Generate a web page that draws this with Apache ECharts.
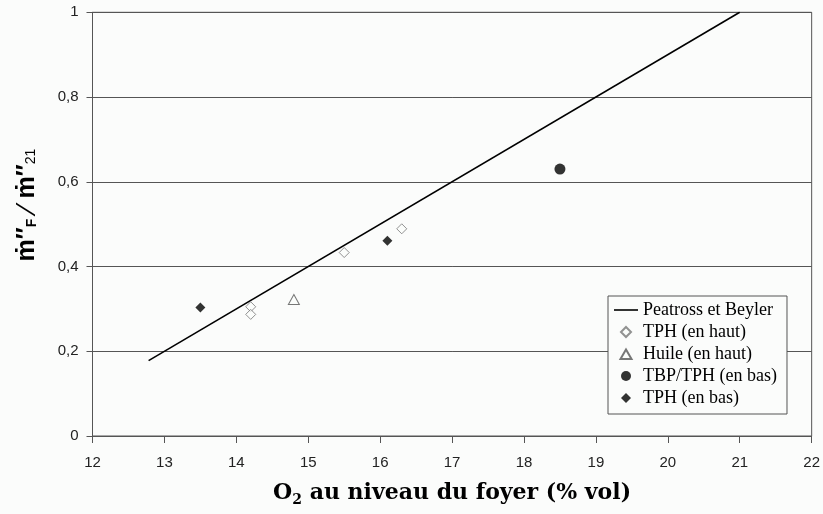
<!DOCTYPE html>
<html>
<head>
<meta charset="utf-8">
<script src="https://cdn.jsdelivr.net/npm/echarts@6/dist/echarts.min.js"></script>
<style>html,body{margin:0;padding:0;background:#fbfcfb;}#c{width:823px;height:514px;}</style>
</head>
<body>
<div id="c"></div>
<script>
// Data
const peatrossLine = [[12.78, 0.178], [21.0, 1.0]];
const tphHaut = [[14.2, 0.305], [14.2, 0.287], [15.5, 0.433], [16.3, 0.489]];
const huileHaut = [[14.8, 0.322]];
const tbpTphBas = [[18.5, 0.63]];
const tphBas = [[13.5, 0.303], [16.1, 0.461]];
const seriesNames = ['Peatross et Beyler', 'TPH (en haut)', 'Huile (en haut)', 'TBP/TPH (en bas)', 'TPH (en bas)'];
const xTicks = { min: 12, max: 22, interval: 1 };
const yTicks = { min: 0, max: 1, interval: 0.2 };

// legend icons padded to a 24x10 box so they keep their shape
const iconLine = 'path://M0,0M24,10M0,4.2H24V5.8H0Z';
const iconDiamond = 'path://M0,0M24,10M12,0L17,5L12,10L7,5Z';
const iconTriangle = 'path://M0,0M24,10M12,0.5L17.5,10L6.5,10Z';
const iconCircle = 'path://M0,0M24,10M7,5A5,5,0,1,1,17,5A5,5,0,1,1,7,5Z';

const chart = echarts.init(document.getElementById('c'), null, { renderer: 'canvas' });
const axisCol = '#555';
chart.setOption({
  backgroundColor: '#fbfcfb',
  animation: false,
  grid: { left: 92.5, right: 11, top: 12.3, bottom: 78, show: true, borderColor: axisCol, borderWidth: 1, backgroundColor: 'transparent' },
  xAxis: {
    type: 'value', min: xTicks.min, max: xTicks.max, interval: xTicks.interval,
    axisLine: { show: true, lineStyle: { color: axisCol, width: 1 } },
    axisTick: { show: true, inside: false, length: 7, lineStyle: { color: axisCol } },
    splitLine: { show: false },
    axisLabel: { margin: 19, color: '#222', fontFamily: 'Liberation Sans', fontSize: 15 },
    name: '{o|O}{sub|2}{t| au niveau du foyer (% vol)}',
    nameLocation: 'middle', nameGap: 44,
    nameTextStyle: {
      rich: {
        o: { fontFamily: 'DejaVu Serif', fontWeight: 'bold', fontSize: 22, color: '#000' },
        sub: { fontFamily: 'DejaVu Serif', fontWeight: 'bold', fontSize: 14, color: '#000', verticalAlign: 'bottom', padding: [13, 0, 0, 0] },
        t: { fontFamily: 'DejaVu Serif', fontWeight: 'bold', fontSize: 22, color: '#000' }
      }
    }
  },
  yAxis: {
    type: 'value', min: yTicks.min, max: yTicks.max, interval: yTicks.interval,
    axisLine: { show: true, lineStyle: { color: axisCol, width: 1 } },
    axisTick: { show: true, inside: false, length: 6, lineStyle: { color: axisCol } },
    splitLine: { show: true, lineStyle: { color: axisCol, width: 1 } },
    axisLabel: { margin: 14, color: '#222', fontFamily: 'Liberation Sans', fontSize: 15,
      formatter: v => String(Math.round(v * 10) / 10).replace('.', ',') }
  },
  graphic: [{
    type: 'text', x: 27, y: 205, rotation: Math.PI / 2,
    style: {
      text: '{m|ṁ″}{f|F}{s| ⁄ }{m|ṁ″}{n|21}',
      align: 'center', verticalAlign: 'middle',
      rich: {
        m: { fontFamily: 'Liberation Sans', fontWeight: 'bold', fontSize: 25, fill: '#000' },
        f: { fontFamily: 'Liberation Sans', fontWeight: 'bold', fontSize: 14, fill: '#000', padding: [10, 0, 0, 0] },
        s: { fontFamily: 'Liberation Sans', fontSize: 28, fill: '#000' },
        n: { fontFamily: 'Liberation Sans', fontSize: 14, fill: '#000', padding: [8, 0, 0, 0] }
      }
    }
  }],
  legend: {
    orient: 'vertical', left: 608, top: 296,
    data: [
      { name: seriesNames[0], icon: iconLine },
      { name: seriesNames[1], icon: iconDiamond },
      { name: seriesNames[2], icon: iconTriangle },
      { name: seriesNames[3], icon: iconCircle },
      { name: seriesNames[4], icon: iconDiamond }
    ],
    borderColor: axisCol, borderWidth: 1, backgroundColor: '#fbfcfb',
    padding: [5, 10, 7, 5], itemGap: 4, itemWidth: 24, itemHeight: 10,
    textStyle: { fontFamily: 'Liberation Serif', fontSize: 18, color: '#000' }
  },
  series: [
    { name: seriesNames[0], type: 'line', data: peatrossLine, symbol: 'none',
      lineStyle: { color: '#000', width: 1.6 }, itemStyle: { color: '#000' }, z: 3 },
    { name: seriesNames[1], type: 'scatter', data: tphHaut, symbol: 'diamond', symbolSize: 10,
      itemStyle: { color: '#fbfcfb', borderColor: '#777', borderWidth: 1 }, z: 4 },
    { name: seriesNames[2], type: 'scatter', data: huileHaut, symbol: 'triangle', symbolSize: [11, 10],
      itemStyle: { color: '#fbfcfb', borderColor: '#555', borderWidth: 1 }, z: 4 },
    { name: seriesNames[3], type: 'scatter', data: tbpTphBas, symbol: 'circle', symbolSize: 11,
      itemStyle: { color: '#000' }, z: 4 },
    { name: seriesNames[4], type: 'scatter', data: tphBas, symbol: 'diamond', symbolSize: 10,
      itemStyle: { color: '#000' }, z: 4 }
  ]
});
</script>
</body>
</html>
